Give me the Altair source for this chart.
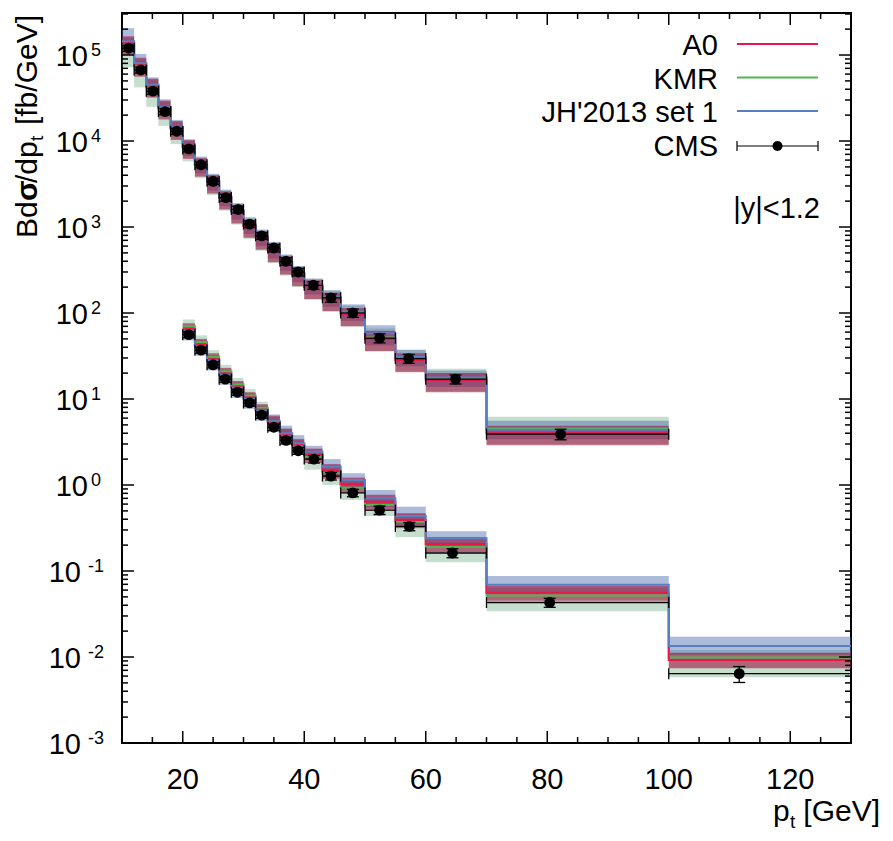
import altair as alt
import pandas as pd

# ---------------- data ----------------
edges_u = [10, 12, 14, 16, 18, 20, 22, 24, 26, 28, 30, 32, 34, 36, 38, 40, 43, 46, 50, 55, 60, 70, 100]
edges_l = [20, 22, 24, 26, 28, 30, 32, 34, 36, 38, 40, 43, 46, 50, 55, 60, 70, 100, 130]

# CMS points (upper set)
cms_x_u = [11.1, 13.1, 15.1, 17.1, 19.0, 21.0, 23.0, 25.0, 27.1, 29.1, 31.0, 33.0, 35.0, 37.0, 39.0, 41.5, 44.4, 48.0, 52.4, 57.2, 64.9, 82.2]
cms_y_u = [1.2e5, 6.7e4, 3.8e4, 2.2e4, 1.3e4, 8.1e3, 5.3e3, 3.4e3, 2.2e3, 1.6e3, 1.08e3, 790, 570, 400, 300, 210, 150, 100, 51, 29.5, 17, 3.9]
cms_e_u = [0.08, 0.08, 0.08, 0.08, 0.08, 0.08, 0.08, 0.08, 0.09, 0.09, 0.09, 0.09, 0.1, 0.1, 0.1, 0.1, 0.11, 0.11, 0.12, 0.12, 0.12, 0.14]
# CMS points (lower set)
cms_x_l = [21.0, 23.0, 25.0, 27.0, 29.0, 31.0, 33.0, 35.0, 37.0, 39.0, 41.6, 44.4, 48.0, 52.4, 57.3, 64.4, 80.4, 111.6]
cms_y_l = [56, 37, 25, 17, 12, 9.0, 6.5, 4.7, 3.3, 2.5, 2.0, 1.27, 0.81, 0.51, 0.33, 0.162, 0.043, 0.0064]
cms_e_l = [0.08, 0.08, 0.08, 0.08, 0.08, 0.08, 0.08, 0.09, 0.09, 0.09, 0.1, 0.1, 0.1, 0.11, 0.11, 0.12, 0.12, 0.21]

# A0 (upper / lower): central, band low, band high
a0_u = [1.38e5, 7.8e4, 4.4e4, 2.45e4, 1.42e4, 8.5e3, 5.3e3, 3.35e3, 2.2e3, 1.52e3, 1.03e3, 750, 540, 385, 285, 200, 145, 96, 50, 28.5, 16.5, 4.0]
a0_u_lo = [1.0e5, 5.6e4, 3.2e4, 1.78e4, 1.03e4, 6.2e3, 3.85e3, 2.45e3, 1.6e3, 1.1e3, 750, 545, 390, 280, 205, 145, 105, 70, 36, 20.5, 12, 2.9]
a0_u_hi = [1.65e5, 9.3e4, 5.3e4, 2.95e4, 1.7e4, 1.02e4, 6.3e3, 4.0e3, 2.6e3, 1.8e3, 1.22e3, 890, 640, 455, 340, 240, 172, 114, 62, 34, 20, 4.9]
a0_l = [65, 43, 29, 19.8, 14, 10.4, 7.5, 5.4, 3.9, 2.95, 2.23, 1.46, 1.02, 0.64, 0.392, 0.206, 0.056, 0.0092]
a0_l_lo = [55, 36.5, 24.5, 16.8, 11.8, 8.8, 6.4, 4.6, 3.3, 2.5, 1.8, 1.18, 0.82, 0.52, 0.315, 0.165, 0.045, 0.0074]
a0_l_hi = [76, 50, 34, 23, 16.2, 12.0, 8.7, 6.3, 4.5, 3.4, 2.65, 1.75, 1.22, 0.77, 0.47, 0.247, 0.067, 0.0112]

# KMR
kmr_u = [1.3e5, 7.4e4, 4.2e4, 2.35e4, 1.38e4, 8.4e3, 5.3e3, 3.35e3, 2.2e3, 1.53e3, 1.04e3, 760, 545, 390, 288, 205, 150, 100, 52, 29.5, 17.5, 4.55]
kmr_u_lo = [7.2e4, 4.2e4, 2.5e4, 1.5e4, 9.2e3, 5.8e3, 3.7e3, 2.35e3, 1.55e3, 1.07e3, 730, 530, 380, 272, 200, 143, 104, 70, 36, 21, 12.3, 3.0]
kmr_u_hi = [1.6e5, 9.0e4, 5.1e4, 2.85e4, 1.68e4, 1.02e4, 6.4e3, 4.05e3, 2.65e3, 1.84e3, 1.26e3, 910, 655, 470, 345, 248, 182, 122, 66, 37, 22.5, 6.2]
kmr_l = [70, 46, 31, 21, 14.8, 11.0, 7.9, 5.5, 3.9, 2.9, 2.14, 1.39, 0.93, 0.585, 0.374, 0.19, 0.052, 0.0099]
kmr_l_lo = [60, 39.5, 26.5, 18, 12.7, 9.4, 6.8, 4.5, 3.2, 2.35, 1.51, 1.0, 0.67, 0.436, 0.247, 0.126, 0.034, 0.0058]
kmr_l_hi = [84, 55, 37, 25, 17.6, 13.0, 9.3, 6.5, 4.6, 3.45, 2.6, 1.7, 1.13, 0.71, 0.455, 0.232, 0.064, 0.0121]

# JH'2013 set 1
jh_u = [1.45e5, 8.0e4, 4.5e4, 2.5e4, 1.46e4, 8.7e3, 5.45e3, 3.45e3, 2.25e3, 1.57e3, 1.07e3, 775, 555, 398, 292, 210, 152, 104, 58, 31, 17.8, 4.4]
jh_u_lo = [1.1e5, 6.2e4, 3.5e4, 1.95e4, 1.13e4, 6.7e3, 4.2e3, 2.65e3, 1.75e3, 1.22e3, 830, 600, 432, 310, 228, 164, 118, 81, 42, 24, 13.8, 3.4]
jh_u_hi = [2.05e5, 1.03e5, 5.5e4, 3.05e4, 1.76e4, 1.05e4, 6.6e3, 4.15e3, 2.72e3, 1.9e3, 1.3e3, 935, 672, 480, 352, 252, 184, 126, 72, 37.5, 21.5, 5.6]
jh_l = [62, 41, 28, 19, 13.5, 10.0, 7.3, 5.5, 4.0, 3.05, 2.44, 1.63, 1.14, 0.70, 0.436, 0.24, 0.069, 0.0134]
jh_l_lo = [48, 32, 21.5, 14.6, 10.3, 7.7, 5.6, 4.3, 3.2, 2.5, 1.95, 1.28, 0.9, 0.55, 0.34, 0.188, 0.054, 0.0105]
jh_l_hi = [72, 48, 32.5, 22, 15.6, 11.6, 8.4, 6.6, 4.9, 3.8, 2.86, 2.0, 1.37, 0.875, 0.56, 0.29, 0.0875, 0.0172]

x_major = [20, 40, 60, 80, 100, 120]
x_minor = [15, 25, 30, 35, 45, 50, 55, 65, 70, 75, 85, 90, 95, 105, 110, 115, 125]
y_pos_exp = ["0", "1", "2", "3", "4", "5"]
y_neg_exp = ["-3", "-2", "-1"]

legend_names = ["A0", "KMR", "JH'2013 set 1", "CMS"]

# ---------------- style ----------------
W, H = 729, 730
FONT = "Liberation Sans"
C_RED, C_GREEN, C_BLUE = "#e8174b", "#4cb84c", "#5a7ec2"
B_RED, B_GREEN, B_BLUE = "#9e0838", "#5aa070", "#4a68b0"

xs = alt.Scale(domain=[10, 130], nice=False, zero=False)
ys = alt.Scale(type="log", domain=[1e-3, 3.08e5], nice=False)

# ---------------- tables ----------------
models = {
    "A0": {"u": (a0_u, a0_u_lo, a0_u_hi), "l": (a0_l, a0_l_lo, a0_l_hi)},
    "KMR": {"u": (kmr_u, kmr_u_lo, kmr_u_hi), "l": (kmr_l, kmr_l_lo, kmr_l_hi)},
    "JH": {"u": (jh_u, jh_u_lo, jh_u_hi), "l": (jh_l, jh_l_lo, jh_l_hi)},
}
edges = {"u": edges_u, "l": edges_l}

band_rows, line_rows = [], []
for m, d in models.items():
    for s, (c, lo, hi) in d.items():
        e = edges[s]
        for i in range(len(c)):
            band_rows.append(dict(model=m, series=s, x0=e[i], x1=e[i + 1], lo=lo[i], hi=hi[i]))
            line_rows.append(dict(model=m, series=s, x=e[i], y=c[i]))
        line_rows.append(dict(model=m, series=s, x=e[-1], y=c[-1]))
bands = pd.DataFrame(band_rows)
lines = pd.DataFrame(line_rows)

cms_rows = []
for s, xv, yv, ev in (("u", cms_x_u, cms_y_u, cms_e_u), ("l", cms_x_l, cms_y_l, cms_e_l)):
    e = edges[s]
    for i in range(len(xv)):
        cms_rows.append(dict(series=s, x=xv[i], y=yv[i], ylo=yv[i] * (1 - ev[i]), yhi=yv[i] * (1 + ev[i]),
                             xlo=e[i], xhi=e[i + 1]))
cms = pd.DataFrame(cms_rows)

X = lambda f: alt.X(f, scale=xs, axis=None)
Y = lambda f: alt.Y(f, scale=ys, axis=None)

layers = []
# bands
for m, col, op in (("KMR", B_GREEN, 0.35), ("JH", B_BLUE, 0.45), ("A0", B_RED, 0.56)):
    layers.append(alt.Chart(bands[bands.model == m]).mark_rect(color=col, opacity=op, clip=True).encode(
        x=X("x0:Q"), x2="x1:Q", y=Y("lo:Q"), y2="hi:Q"))
# step lines
for m, col in (("KMR", C_GREEN), ("A0", C_RED), ("JH", C_BLUE)):
    layers.append(alt.Chart(lines[lines.model == m]).mark_line(
        interpolate="step-after", color=col, strokeWidth=2, clip=True).encode(
        x=X("x:Q"), y=Y("y:Q"), detail="series:N"))
# CMS
layers.append(alt.Chart(cms).mark_rule(color="black", strokeWidth=1.3, clip=True).encode(
    x=X("xlo:Q"), x2="xhi:Q", y=Y("y:Q")))
for f in ("xlo:Q", "xhi:Q"):
    layers.append(alt.Chart(cms).mark_tick(orient="vertical", size=11, thickness=1.3, color="black", opacity=1,
                                           clip=True).encode(x=X(f), y=Y("y:Q")))
layers.append(alt.Chart(cms).mark_rule(color="black", strokeWidth=1.3).encode(
    x=X("x:Q"), y=Y("ylo:Q"), y2="yhi:Q"))
for f in ("ylo:Q", "yhi:Q"):
    layers.append(alt.Chart(cms).mark_tick(orient="horizontal", size=12, thickness=1.3, color="black", opacity=1).encode(
        x=X("x:Q"), y=Y(f)))
layers.append(alt.Chart(cms).mark_circle(size=118, color="black", opacity=1).encode(x=X("x:Q"), y=Y("y:Q")))

# axis ticks (inward, mirrored)
yt_major = pd.DataFrame({"v": [10.0 ** k for k in range(-3, 6)]})
yt_minor = pd.DataFrame({"v": [mm * 10.0 ** k for k in range(-3, 6) for mm in range(2, 10) if mm * 10.0 ** k < 3.08e5]})
for df, ln in ((yt_major, 12), (yt_minor, 6)):
    layers.append(alt.Chart(df).mark_rule(color="black", strokeWidth=1.5).encode(
        y=Y("v:Q"), x=alt.value(0), x2=alt.value(ln)))
    layers.append(alt.Chart(df).mark_rule(color="black", strokeWidth=1.5).encode(
        y=Y("v:Q"), x=alt.value(W), x2=alt.value(W - ln)))
for vals, ln in ((x_major, 12), (x_minor, 6)):
    df = pd.DataFrame({"v": vals})
    layers.append(alt.Chart(df).mark_rule(color="black", strokeWidth=1.5).encode(
        x=X("v:Q"), y=alt.value(H), y2=alt.value(H - ln)))
    layers.append(alt.Chart(df).mark_rule(color="black", strokeWidth=1.5).encode(
        x=X("v:Q"), y=alt.value(0), y2=alt.value(ln)))

# tick labels
xl = pd.DataFrame({"v": x_major, "t": [str(v) for v in x_major]})
layers.append(alt.Chart(xl).mark_text(font=FONT, fontSize=29, align="center", baseline="alphabetic", color="black").encode(
    x=X("v:Q"), y=alt.value(776), text="t:N"))
for exps, xb, xe in ((y_pos_exp, -34, -21), (y_neg_exp, -41, -18)):
    df = pd.DataFrame({"v": [10.0 ** int(e) for e in exps], "b": ["10"] * len(exps), "e": exps})
    layers.append(alt.Chart(df).mark_text(font=FONT, fontSize=29, align="right", baseline="alphabetic", dy=11, color="black").encode(
        y=Y("v:Q"), x=alt.value(xb), text="b:N"))
    layers.append(alt.Chart(df).mark_text(font=FONT, fontSize=18, align="right", baseline="alphabetic", dy=1, color="black").encode(
        y=Y("v:Q"), x=alt.value(xe), text="e:N"))


def txt(s, x, y, size=30, align="left", angle=0, weight="normal"):
    return alt.Chart(pd.DataFrame({"t": [s]})).mark_text(
        font=FONT, fontSize=size, align=align, baseline="alphabetic", angle=angle, fontWeight=weight, color="black"
    ).encode(x=alt.value(x), y=alt.value(y), text="t:N")


# axis titles
layers += [txt("p", 651, 808), txt("t", 668, 815, size=19), txt("[GeV]", 758, 808, align="right")]
layers += [txt("Bd", -85, 225, angle=270), txt("σ", -85, 188, angle=270, weight="bold"),
           txt("/dp", -85, 170, angle=270), txt("t", -79, 128, size=19, angle=270),
           txt("[fb/GeV]", -85, 2, align="right", angle=270)]

# legend
leg_y = [42, 76, 109, 143]
for name, yy in zip(legend_names, leg_y):
    layers.append(txt(name, 596, yy, size=29, align="right"))
one = pd.DataFrame({"a": [0]})
for col, yy in ((C_RED, 31), (C_GREEN, 64.5), (C_BLUE, 98)):
    layers.append(alt.Chart(one).mark_rule(color=col, strokeWidth=2).encode(
        x=alt.value(615), x2=alt.value(696), y=alt.value(yy)))
layers.append(alt.Chart(one).mark_rule(color="black", strokeWidth=1.2).encode(
    x=alt.value(615), x2=alt.value(696), y=alt.value(133)))
for xx in (615, 696):
    layers.append(alt.Chart(one).mark_rule(color="black", strokeWidth=1.2).encode(
        x=alt.value(xx), y=alt.value(128), y2=alt.value(138)))
layers.append(alt.Chart(one).mark_circle(size=100, color="black", opacity=1).encode(
    x=alt.value(655.5), y=alt.value(133)))
layers.append(txt("|y|<1.2", 698, 205, size=29, align="right"))

chart = alt.layer(*layers).properties(
    width=W, height=H,
    padding={"left": 114, "top": 5, "right": 34, "bottom": 90},
    autosize=alt.AutoSizeParams(type="none"),
).configure_view(stroke="black", strokeWidth=2)

chart.save("out.html", embed_options={"renderer": "svg", "actions": False})
